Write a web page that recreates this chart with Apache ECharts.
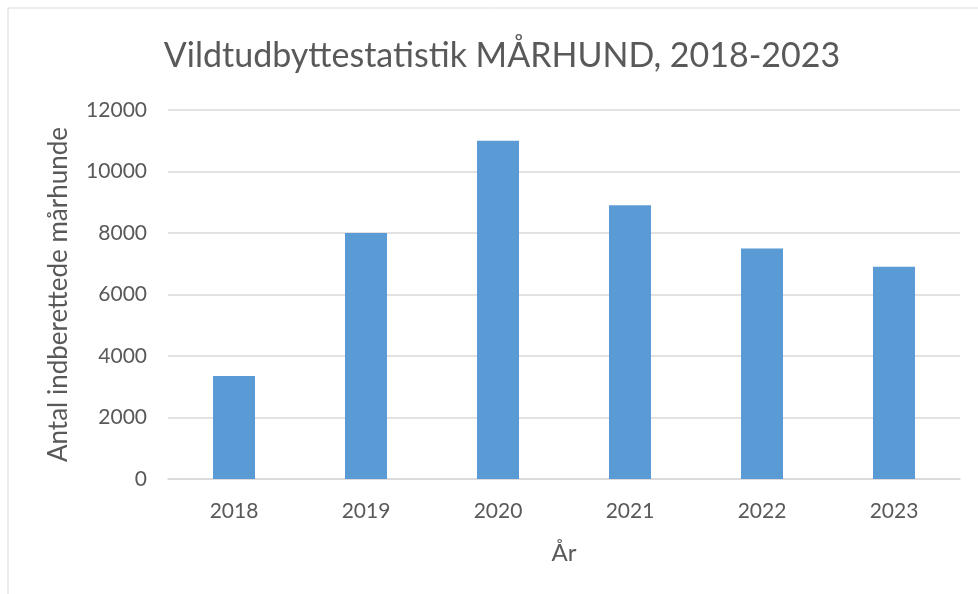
<!DOCTYPE html>
<html>
<head>
<meta charset="utf-8">
<script src="https://cdn.jsdelivr.net/npm/echarts@6/dist/echarts.min.js"></script>
<style>
  html, body { margin: 0; padding: 0; background: #fff; }
  #chart { width: 978px; height: 594px; }
</style>
</head>
<body>
<div id="chart"></div>
<script>
// Chart data
var years = ['2018', '2019', '2020', '2021', '2022', '2023'];
var counts = [3350, 8000, 11000, 8900, 7500, 6900];
var yTicks = [0, 2000, 4000, 6000, 8000, 10000, 12000];

var textColor = '#595959';
var fontFam = 'Lato, "Open Sans", sans-serif';

var myChart = echarts.init(document.getElementById('chart'));

var option = {
    backgroundColor: '#fff',
    animation: false,
    graphic: [{
        type: 'rect',
        shape: { x: 8, y: 8, width: 980, height: 600 },
        style: { fill: 'none', stroke: '#d9d9d9', lineWidth: 1 },
        silent: true
    }],
    title: {
        text: 'Vildtudbyttestatistik MÅRHUND, 2018-2023',
        left: 497,
        top: 34,
        textAlign: 'center',
        textStyle: {
            color: textColor,
            fontFamily: fontFam,
            fontWeight: 'normal',
            fontSize: 34
        }
    },
    grid: {
        left: 168,
        right: 18,
        top: 110,
        bottom: 115
    },
    xAxis: {
        type: 'category',
        data: years,
        name: 'År',
        nameLocation: 'middle',
        nameGap: 62,
        nameTextStyle: { color: textColor, fontFamily: fontFam, fontSize: 24 },
        axisLine: { lineStyle: { color: '#d9d9d9', width: 1.5 } },
        axisTick: { show: false },
        axisLabel: { color: textColor, fontFamily: fontFam, fontSize: 21, margin: 22 }
    },
    yAxis: {
        type: 'value',
        min: yTicks[0],
        max: yTicks[yTicks.length - 1],
        interval: 2000,
        name: 'Antal indberettede mårhunde',
        nameLocation: 'middle',
        nameGap: 96,
        nameTextStyle: { color: textColor, fontFamily: fontFam, fontSize: 26 },
        axisLine: { show: false },
        axisTick: { show: false },
        axisLabel: {
            color: textColor, fontFamily: fontFam, fontSize: 21, margin: 21,
            formatter: function (v) { return String(v); }
        },
        splitLine: { lineStyle: { color: '#d9d9d9', width: 1.5 } }
    },
    series: [{
        type: 'bar',
        data: counts,
        barWidth: 42,
        itemStyle: { color: '#5b9bd5' }
    }]
};

myChart.setOption(option);
</script>
</body>
</html>
